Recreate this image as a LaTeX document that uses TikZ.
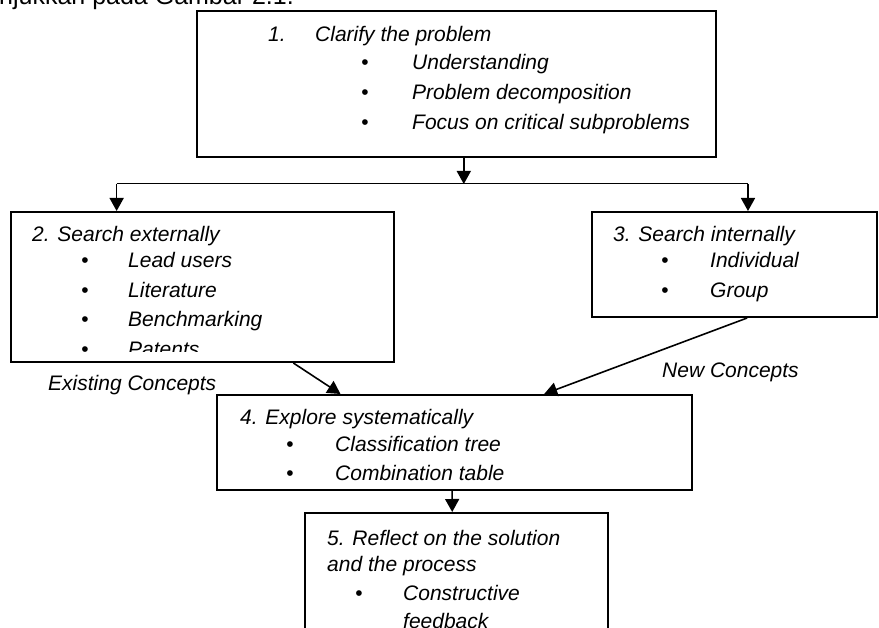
\documentclass[tikz,border=0pt]{standalone}
\usepackage{fontspec}
\setmainfont{Liberation Sans}
\usetikzlibrary{arrows.meta,calc,positioning}

\begin{document}
\begin{tikzpicture}[x=1pt,y=-1pt,
    box/.style={draw,line width=2pt,inner sep=0pt},
    txt/.style={anchor=base west,inner sep=0pt,font=\fontsize{21}{25}\selectfont\itshape},
    dot/.style={anchor=base,inner sep=0pt,font=\fontsize{21}{25}\selectfont},
    flow/.style={line width=1.6pt,-{Triangle[length=13pt,width=14pt]}}]

\useasboundingbox (0,0) rectangle (879,628);

% running text above the figure
\node [anchor=base west,inner sep=0pt,font=\fontsize{25}{30}\selectfont] (caption) at (-1,5) {njukkan pada Gambar 2.1.};

% the five boxes
\node [box,minimum width=519pt,minimum height=146pt] (clarify) at (456.5,84) {};
\node [box,minimum width=383pt,minimum height=150pt] (extern) at (202.5,287) {};
\node [box,minimum width=285pt,minimum height=105pt] (intern) at (734.5,264.5) {};
\node [box,minimum width=475pt,minimum height=95pt] (explore) at (454.5,442.5) {};
\node [box,minimum width=303pt,minimum height=180pt] (reflect) at (456.5,603) {};

% 1. clarify
\node [txt] (clarify-no) at (268,42) {1.};
\node [txt] (clarify-t) at (315,42) {Clarify the problem};
\node [dot] (clarify-d1) at (365,70) {•};
\node [txt] (clarify-1) at (412,70) {Understanding};
\node [dot] (clarify-d2) at (365,100) {•};
\node [txt] (clarify-2) at (412,100) {Problem decomposition};
\node [dot] (clarify-d3) at (365,130) {•};
\node [txt] (clarify-3) at (412,130) {Focus on critical subproblems};

% 2. search externally
\begin{scope}
\clip (11,212) rectangle (394,352);
\node [txt] (extern-t) at (32,242) {2. Search externally};
\node [dot] (extern-d1) at (85,268) {•};
\node [txt] (extern-1) at (128,268) {Lead users};
\node [dot] (extern-d2) at (85,298) {•};
\node [txt] (extern-2) at (128,298) {Literature};
\node [dot] (extern-d3) at (85,327) {•};
\node [txt] (extern-3) at (128,327) {Benchmarking};
\node [dot] (extern-d4) at (85,357) {•};
\node [txt] (extern-4) at (128,357) {Patents};
\end{scope}

% 3. search internally
\node [txt] (intern-t) at (613,242) {3. Search internally};
\node [dot] (intern-d1) at (665,268) {•};
\node [txt] (intern-1) at (710,268) {Individual};
\node [dot] (intern-d2) at (665,298) {•};
\node [txt] (intern-2) at (710,298) {Group};

% 4. explore
\node [txt] (explore-t) at (240,425) {4. Explore systematically};
\node [dot] (explore-d1) at (290,452) {•};
\node [txt] (explore-1) at (335,452) {Classification tree};
\node [dot] (explore-d2) at (290,480) {•};
\node [txt] (explore-2) at (335,480) {Combination table};

% 5. reflect
\node [txt] (reflect-t) at (327,545) {5. Reflect on the solution};
\node [txt] (reflect-t2) at (327,571) {and the process};
\node [dot] (reflect-d1) at (359,600) {•};
\node [txt] (reflect-1) at (403,600) {Constructive};
\node [txt] (reflect-2) at (403,628) {feedback};

% labels on the joining arrows
\node [txt] (existing) at (48,391) {Existing Concepts};
\node [txt] (new) at (662,378) {New Concepts};

% connectors
\coordinate (split) at ($(clarify.south west)!0.514!(clarify.south east)+(0,26)$);
\coordinate (splitl) at ($(extern.north west)!0.277!(extern.north east)$);
\coordinate (splitr) at ($(intern.north west)!0.547!(intern.north east)$);
\draw [flow] ($(clarify.south west)!0.514!(clarify.south east)$) -- (split);
\draw [line width=1pt] (splitl |- split) -- (splitr |- split);
\draw [flow] (splitl |- split) -- (splitl);
\draw [flow] (splitr |- split) -- (splitr);

\draw [flow] ($(extern.south west)!0.736!(extern.south east)$)
    -- ($(explore.north west)!0.261!(explore.north east)$);
\draw [flow] ($(intern.south west)!0.544!(intern.south east)$)
    -- ($(explore.north west)!0.688!(explore.north east)$);
\draw [flow] ($(explore.south west)!0.495!(explore.south east)$)
    -- ($(reflect.north west)!0.486!(reflect.north east)$);

\end{tikzpicture}
\end{document}
